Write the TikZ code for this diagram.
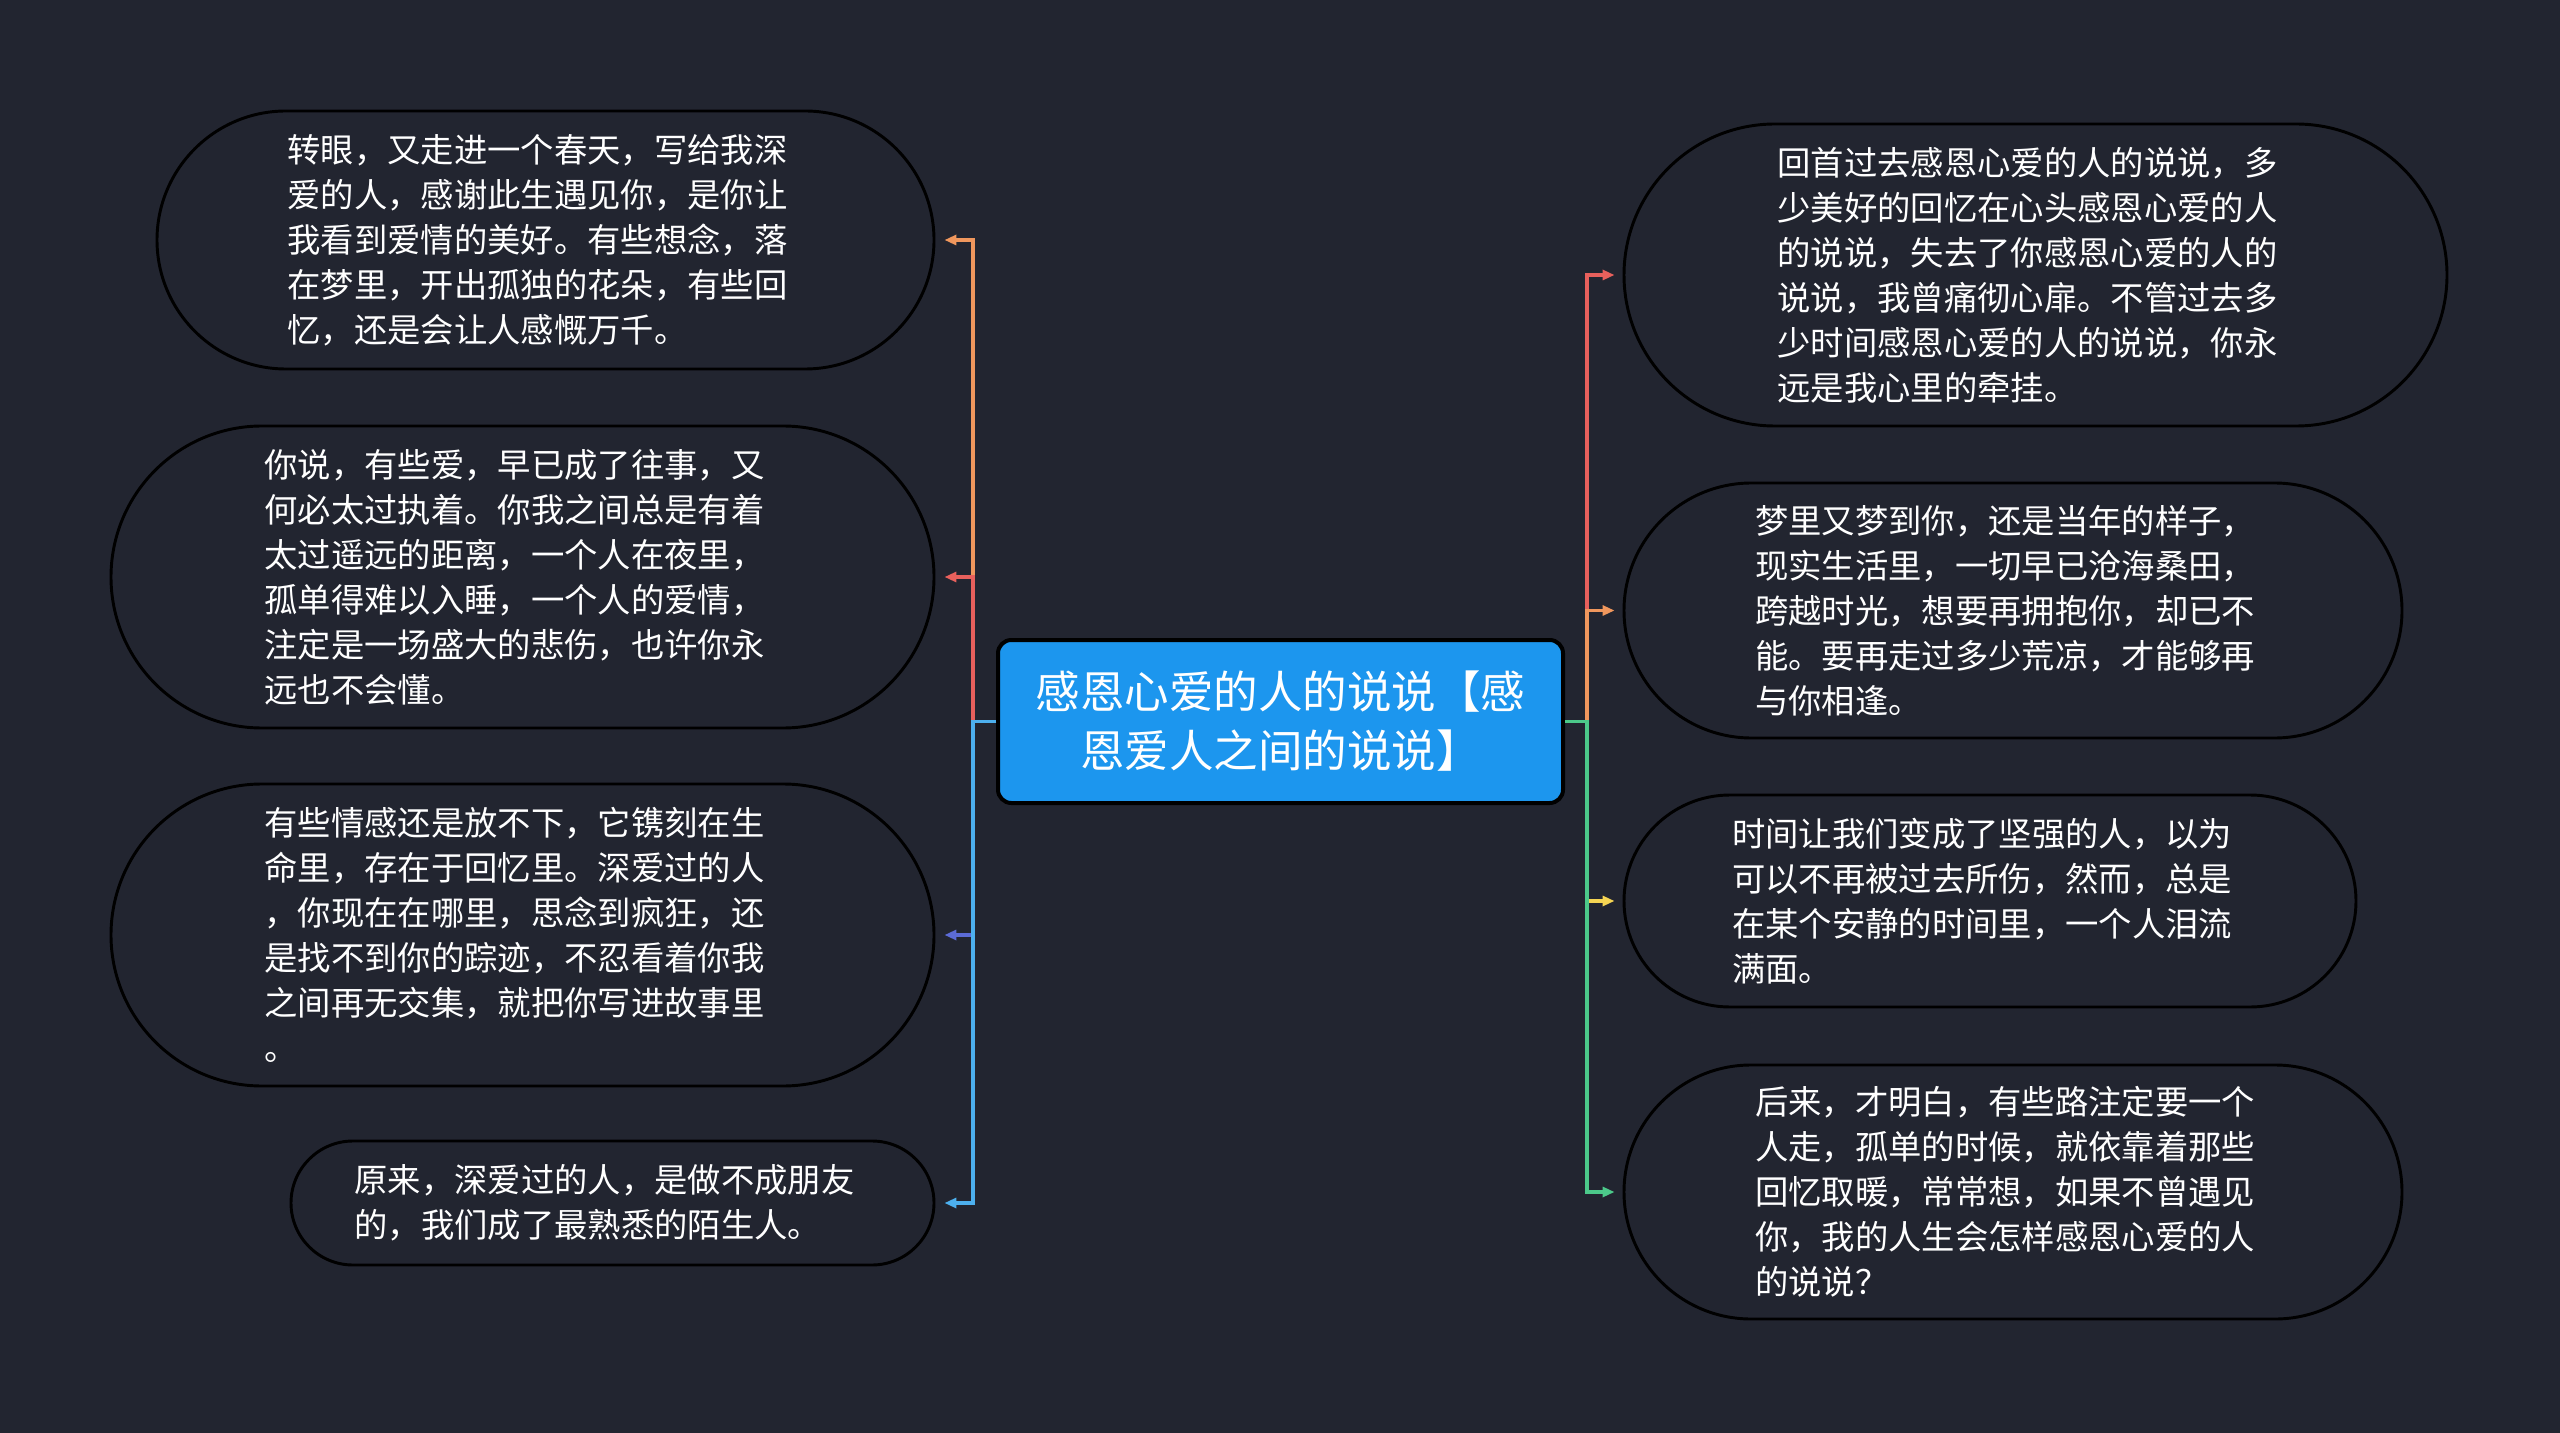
\documentclass[tikz,border=0pt]{standalone}
\usepackage{fontspec}
\newfontfamily\cjk{Noto Sans CJK SC}
\usetikzlibrary{arrows.meta,shapes.misc}
\definecolor{bgnavy}{RGB}{34,37,48}
\definecolor{topicblue}{RGB}{28,150,238}
\definecolor{bOrange}{RGB}{240,151,93}
\definecolor{bRed}{RGB}{232,96,92}
\definecolor{bPurple}{RGB}{92,107,214}
\definecolor{bBlue}{RGB}{77,176,238}
\definecolor{bYellow}{RGB}{245,212,83}
\definecolor{bGreen}{RGB}{76,201,138}
\tikzset{
  qarrow/.style={-{Triangle[length=9pt,width=7.5pt]}, line width=2.4pt},
  topic/.style={draw=black, line width=3pt, fill=topicblue, rounded corners=10pt, text=white,
    font=\cjk\fontsize{33.4pt}{44.3pt}\selectfont, align=center, inner sep=0pt},
  leaf/.style={rounded rectangle, draw=black, line width=2.2pt, fill=bgnavy, text=white,
    font=\cjk\fontsize{25pt}{33.75pt}\selectfont, text width=387pt, align=left, inner sep=0pt}
}

\begin{document}
\begin{tikzpicture}[x=0.75pt, y=-0.75pt]
    \fill[bgnavy] (0,0) rectangle (2560,1433);
    \useasboundingbox (0,0) rectangle (2560,1433);
    \node[topic, minimum width=423.75pt, minimum height=122.25pt] (c) at (1280.5,721.5) {感恩心爱的人的说说【感\\恩爱人之间的说说】};
    \node[leaf, minimum width=582.75pt, minimum height=193.5pt] (l1) at (545.5,240) {转眼，又走进一个春天，写给我深\\爱的人，感谢此生遇见你，是你让\\我看到爱情的美好。有些想念，落\\在梦里，开出孤独的花朵，有些回\\忆，还是会让人感慨万千。};
    \node[leaf, minimum width=617.25pt, minimum height=226.5pt] (l2) at (522.5,577) {你说，有些爱，早已成了往事，又\\何必太过执着。你我之间总是有着\\太过遥远的距离，一个人在夜里，\\孤单得难以入睡，一个人的爱情，\\注定是一场盛大的悲伤，也许你永\\远也不会懂。};
    \node[leaf, minimum width=617.25pt, minimum height=226.5pt] (l3) at (522.5,935) {有些情感还是放不下，它镌刻在生\\命里，存在于回忆里。深爱过的人\\，你现在在哪里，思念到疯狂，还\\是找不到你的踪迹，不忍看着你我\\之间再无交集，就把你写进故事里\\。};
    \node[leaf, minimum width=482.25pt, minimum height=93pt] (l4) at (612.5,1203) {原来，深爱过的人，是做不成朋友\\的，我们成了最熟悉的陌生人。};
    \node[leaf, minimum width=617.25pt, minimum height=226.5pt] (r1) at (2035.5,275) {回首过去感恩心爱的人的说说，多\\少美好的回忆在心头感恩心爱的人\\的说说，失去了你感恩心爱的人的\\说说，我曾痛彻心扉。不管过去多\\少时间感恩心爱的人的说说，你永\\远是我心里的牵挂。};
    \node[leaf, minimum width=583.5pt, minimum height=191.25pt] (r2) at (2013,610.5) {梦里又梦到你，还是当年的样子，\\现实生活里，一切早已沧海桑田，\\跨越时光，想要再拥抱你，却已不\\能。要再走过多少荒凉，才能够再\\与你相逢。};
    \node[leaf, minimum width=549pt, minimum height=159pt] (r3) at (1990,901) {时间让我们变成了坚强的人，以为\\可以不再被过去所伤，然而，总是\\在某个安静的时间里，一个人泪流\\满面。};
    \node[leaf, minimum width=583.5pt, minimum height=190.5pt] (r4) at (2013,1192) {后来，才明白，有些路注定要一个\\人走，孤单的时候，就依靠着那些\\回忆取暖，常常想，如果不曾遇见\\你，我的人生会怎样感恩心爱的人\\的说说？};
    \draw[qarrow, bOrange, shorten >=6.75pt] (c.west) -- ++(-23,0) |- (l1.east);
    \draw[qarrow, bRed, shorten >=6.75pt] (c.west) -- ++(-23,0) |- (l2.east);
    \draw[qarrow, bPurple, shorten >=6.75pt] (c.west) -- ++(-23,0) |- (l3.east);
    \draw[qarrow, bBlue, shorten >=6.75pt] (c.west) -- ++(-23,0) |- (l4.east);
    \draw[qarrow, bRed, shorten >=6pt] (c.east) -- ++(22,0) |- (r1.west);
    \draw[qarrow, bOrange, shorten >=6pt] (c.east) -- ++(22,0) |- (r2.west);
    \draw[qarrow, bYellow, shorten >=6pt] (c.east) -- ++(22,0) |- (r3.west);
    \draw[qarrow, bGreen, shorten >=6pt] (c.east) -- ++(22,0) |- (r4.west);
  \end{tikzpicture}
\end{document}
